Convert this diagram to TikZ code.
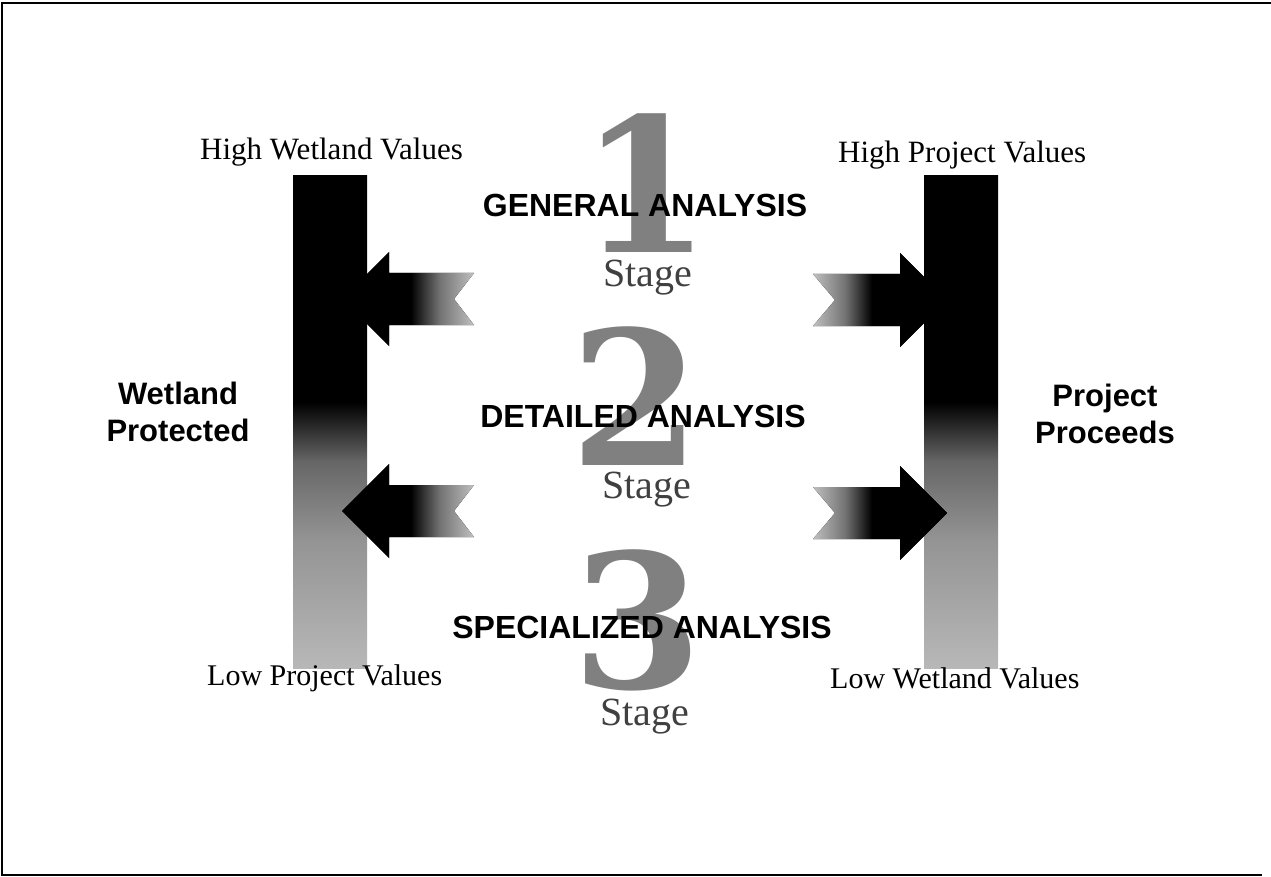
\documentclass[tikz,border=0pt]{standalone}
\usepackage{fontspec}
\setmainfont{Liberation Serif}
\setsansfont{Liberation Sans}
\newfontfamily\numfont{DejaVu Serif}

% bar: black at top, grey below
\pgfdeclareverticalshading{barfade}{100bp}{color(0bp)=(black!25); color(25bp)=(black!28); color(38bp)=(black!42); color(46bp)=(black!60); color(52bp)=(black); color(100bp)=(black)}
% arrows: black at the head, grey at the tail
\pgfdeclarehorizontalshading{arrowleft}{100bp}{color(0bp)=(black); color(51bp)=(black); color(62bp)=(black!55); color(75bp)=(black!25); color(100bp)=(black!25)}
\pgfdeclarehorizontalshading{arrowright}{100bp}{color(0bp)=(black!25); color(25bp)=(black!25); color(37bp)=(black!55); color(47bp)=(black); color(100bp)=(black)}

\tikzset{
  valuelabel/.style={anchor=base west, inner sep=0pt, font=\fontsize{31}{37}\selectfont},
  sidelabel/.style={align=center, inner sep=0pt, font=\sffamily\bfseries\fontsize{31}{37}\selectfont},
  bignum/.style={anchor=base, inner sep=0pt, text=black!50, font=\numfont\bfseries\fontsize{187}{187}\selectfont},
  stagelabel/.style={anchor=base, inner sep=0pt, text=black!75, font=\fontsize{40}{44}\selectfont},
  analysis/.style={anchor=base, inner sep=0pt, font=\sffamily\bfseries\fontsize{32}{36}\selectfont}
}

\begin{document}
\begin{tikzpicture}[x=1pt,y=-1pt]
    \useasboundingbox (0,0) rectangle (1271,877);
    \fill [white] (0,0) rectangle (1271,877);

    \coordinate (f0) at (1271,3);
    \coordinate (f1) at (2,3);
    \coordinate (f2) at (2,875);
    \coordinate (f3) at (1262,875);

    \draw [line width=1.5pt] (f0) -- (f1) -- (f2) -- (f3);

    % the two bars
    \coordinate (wtop) at (293,176);
    \coordinate (wbot) at (367,668);
    \coordinate (ptop) at (924,176);
    \coordinate (pbot) at (998,668);

    \fill [shading=barfade] (wtop) rectangle (wbot);
    \fill [shading=barfade] (ptop) rectangle (pbot);

    % arrow tips
    \coordinate (w1) at (342,299);
    \coordinate (w2) at (342,511);
    \coordinate (p1) at (947,300);
    \coordinate (p2) at (947,513);

    \fill [shading=arrowleft] (w1) -- ++(47,-47) -- ++(0,21) -- ++(85,0)
    -- ++(-20,26) -- ++(20,26) -- ++(-85,0) -- ++(0,21) -- cycle;

    \fill [shading=arrowleft] (w2) -- ++(47,-47) -- ++(0,21) -- ++(85,0)
    -- ++(-20,26) -- ++(20,26) -- ++(-85,0) -- ++(0,21) -- cycle;

    \fill [shading=arrowright] (p1) -- ++(-47,-47) -- ++(0,21) -- ++(-87,0)
    -- ++(22,26) -- ++(-22,26) -- ++(87,0) -- ++(0,21) -- cycle;

    \fill [shading=arrowright] (p2) -- ++(-47,-47) -- ++(0,21) -- ++(-87,0)
    -- ++(22,26) -- ++(-22,26) -- ++(87,0) -- ++(0,21) -- cycle;

    % stages
    \node [bignum] (n1) at (646,253) {1};
    \node [bignum] (n2) at (636,465) {2};
    \node [bignum] (n3) at (638,688) {3};

    \node [analysis] (a1) at (645,217) {GENERAL ANALYSIS};
    \node [analysis] (a2) at (643,427) {DETAILED ANALYSIS};
    \node [analysis] (a3) at (642,638) {SPECIALIZED ANALYSIS};

    \node [stagelabel] (s1) at (648,287) {Stage};
    \node [stagelabel] (s2) at (647,498) {Stage};
    \node [stagelabel] (s3) at (645,725) {Stage};

    % labels by the bars
    \node [valuelabel] (hw) at (200,160) {High Wetland Values};
    \node [valuelabel] (hp) at (838,163) {High Project Values};
    \node [valuelabel,font=\fontsize{30}{36}\selectfont] (lp) at (207,685) {Low Project Values};
    \node [valuelabel,font=\fontsize{30}{36}\selectfont] (lw) at (830,688) {Low Wetland Values};

    \node [sidelabel] (wp) at (178,412) {Wetland\\Protected};
    \node [sidelabel] (pp) at (1105,414) {Project\\Proceeds};
  \end{tikzpicture}
\end{document}
